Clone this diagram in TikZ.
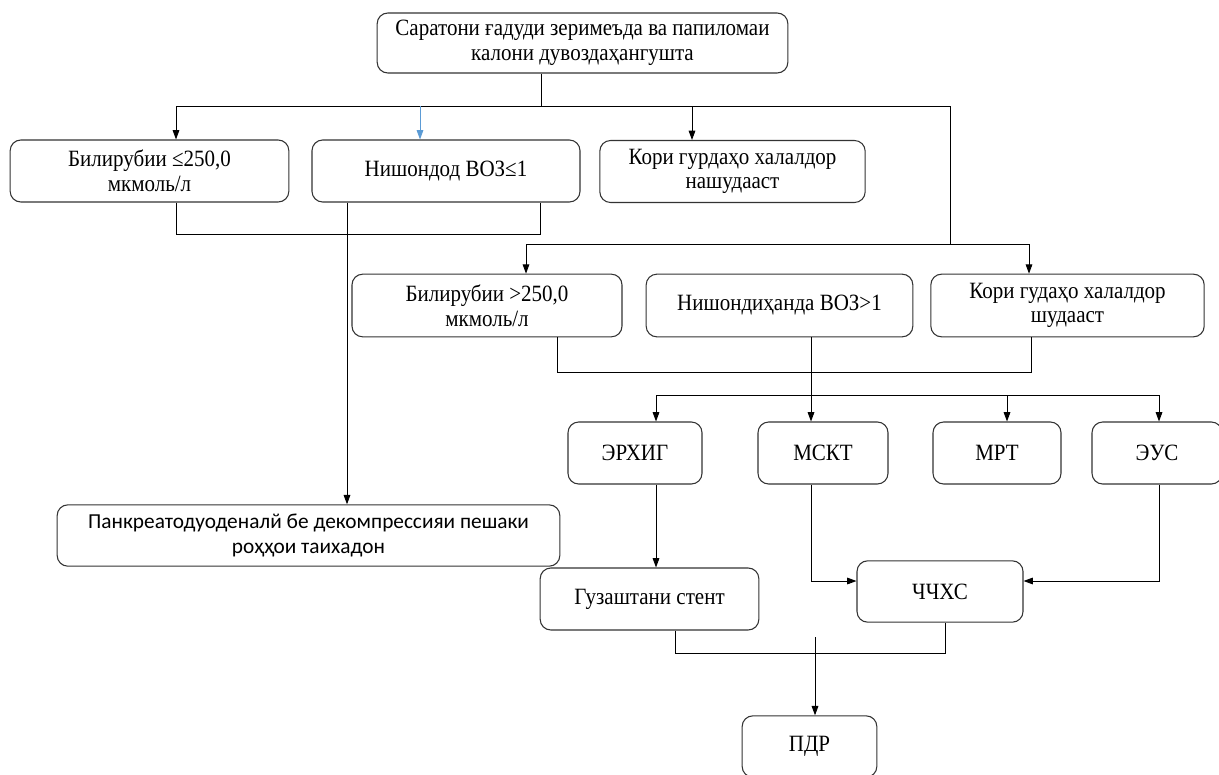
\documentclass[tikz,border=0pt]{standalone}
\usepackage{fontspec}
\setmainfont{Liberation Serif}[FakeStretch=0.9]
\newfontfamily\calibrifont{Carlito}
\usepackage{tikz}
\usetikzlibrary{positioning, arrows.meta}
\definecolor{arrowblue}{RGB}{91,155,213}

\begin{document}
\begin{tikzpicture}[
  x=0.75pt, y=-0.75pt,
  font=\fontsize{17.5}{18.5}\selectfont,
  box/.style={draw=black!80, line width=0.8pt, rounded corners=8pt, align=center, inner sep=2pt},
  link/.style={line width=0.7pt},
  arrow/.style={link, -{Triangle[length=7pt, width=5pt]}},
  bluearrow/.style={arrow, draw=arrowblue, fill=arrowblue}
]
\useasboundingbox (0,0) rectangle (1219,774);

% Nodes
\node[box, minimum width=308pt, minimum height=45pt] (top) at (582.5,43) {Саратони ғадуди зеримеъда ва папиломаи\\калони дувоздаҳангушта};
\node[box, minimum width=209pt, minimum height=46.5pt] (bilL) at (149.5,171) {Билирубии ≤250,0\\мкмоль/л};
\node[box, minimum width=201pt, minimum height=46.5pt] (vozL) at (446,171) {Нишондод ВОЗ≤1};
\node[box, minimum width=199pt, minimum height=46.5pt] (koriL) at (732.5,171.5) {Кори гурдаҳо халалдор\\нашудааст};
\node[box, minimum width=202.5pt, minimum height=47pt] (bilG) at (487,305.5) {Билирубии >250,0\\мкмоль/л};
\node[box, minimum width=200pt, minimum height=47pt] (vozG) at (779.5,305.5) {Нишондиҳанда ВОЗ>1};
\node[box, minimum width=205pt, minimum height=47pt] (koriG) at (1067.5,305.5) {Кори гудаҳо халалдор\\шудааст};
\node[box, minimum width=100.5pt, minimum height=46.5pt] (erhig) at (635,453) {ЭРХИГ};
\node[box, minimum width=97.5pt, minimum height=46.5pt] (mskt) at (823,453) {МСКТ};
\node[box, minimum width=96pt, minimum height=46.5pt] (mrt) at (997,453) {МРТ};
\node[box, minimum width=97.5pt, minimum height=46.5pt] (eus) at (1157,453) {ЭУС};
\node[box, minimum width=377pt, minimum height=46pt, font=\calibrifont\fontsize{16}{18.5}\selectfont] (panc) at (308.5,535.5) {Панкреатодуоденалй бе декомпрессияи пешаки\\роҳҳои таихадон};
\node[box, minimum width=164pt, minimum height=46.5pt] (stent) at (649.5,599) {Гузаштани стент};
\node[box, minimum width=124.5pt, minimum height=46pt] (chhxs) at (940,591.5) {ЧЧХС};
\node[box, minimum width=101pt, minimum height=46pt] (pdr) at (809.5,746.5) {ПДР};

% Bus points
\coordinate (t0) at (541,106);
\coordinate (t1) at (176,106);
\coordinate (t2) at (420,106);
\coordinate (t3) at (692,106);
\coordinate (t4) at (950,106);
\coordinate (u0) at (176,234);
\coordinate (u1) at (540,234);
\coordinate (p0) at (347,234);
\coordinate (s0) at (950,244);
\coordinate (s1) at (526,244);
\coordinate (s2) at (1029,244);
\coordinate (r0) at (557,372);
\coordinate (r1) at (811,372);
\coordinate (r2) at (1031,372);
\coordinate (q0) at (656,395);
\coordinate (q1) at (811,395);
\coordinate (q2) at (1007,395);
\coordinate (q3) at (1159,395);
\coordinate (m0) at (811,581);
\coordinate (m1) at (1159,581);
\coordinate (w0) at (675,653);
\coordinate (w1) at (945,653);
\coordinate (w2) at (815,637);

% Arrows
\draw[link] (top.south -| t0) -- (t0);
\draw[link] (t1) -- (t4);
\draw[arrow] (t1) -- (t1 |- bilL.north);
\draw[bluearrow] (t2) -- (t2 |- vozL.north);
\draw[arrow] (t3) -- (t3 |- koriL.north);
\draw[link] (bilL.south -| u0) -- (u0) -- (u1) -- (vozL.south -| u1);
\draw[arrow] (vozL.south -| p0) -- (p0 |- panc.north);
\draw[link] (t4) -- (s0);
\draw[link] (s1) -- (s2);
\draw[arrow] (s1) -- (s1 |- bilG.north);
\draw[arrow] (s2) -- (s2 |- koriG.north);
\draw[link] (bilG.south -| r0) -- (r0) -- (r2) -- (koriG.south -| r2);
\draw[link] (vozG.south -| r1) -- (r1) -- (q1);
\draw[link] (q0) -- (q3);
\draw[arrow] (q0) -- (q0 |- erhig.north);
\draw[arrow] (q1) -- (q1 |- mskt.north);
\draw[arrow] (q2) -- (q2 |- mrt.north);
\draw[arrow] (q3) -- (q3 |- eus.north);
\draw[arrow] (erhig.south -| q0) -- (q0 |- stent.north);
\draw[arrow] (mskt.south -| m0) -- (m0) -- (m0 -| chhxs.west);
\draw[arrow] (eus.south -| m1) -- (m1) -- (m1 -| chhxs.east);
\draw[link] (stent.south -| w0) -- (w0) -- (w1) -- (chhxs.south -| w1);
\draw[arrow] (w2) -- (w2 |- pdr.north);

\end{tikzpicture}
\end{document}
